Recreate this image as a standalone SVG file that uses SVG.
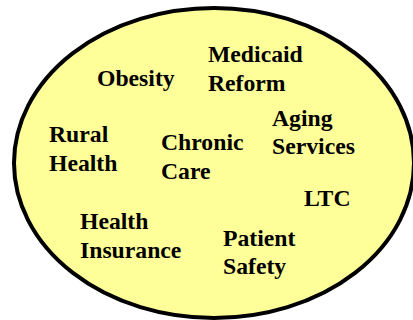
<svg xmlns="http://www.w3.org/2000/svg" width="413" height="320" viewBox="0 0 413 320">
  <style>
    .lbl { font-family: "Liberation Serif", "Times New Roman", serif; font-weight: bold; font-size: 23.7px; fill: #000000; }
  </style>
  <rect width="413" height="320" fill="#ffffff"/>
  <g id="circle">
    <ellipse cx="214" cy="163" rx="200" ry="155" fill="#ffff99" stroke="#000000" stroke-width="4"/>
  </g>
  <g id="obesity"><text class="lbl" x="97" y="86">Obesity</text></g>
  <g id="medicaid-reform">
    <text class="lbl" x="208" y="62">Medicaid</text>
    <text class="lbl" x="208" y="91">Reform</text>
  </g>
  <g id="aging-services">
    <text class="lbl" x="272" y="126">Aging</text>
    <text class="lbl" x="272" y="154">Services</text>
  </g>
  <g id="rural-health">
    <text class="lbl" x="49" y="142">Rural</text>
    <text class="lbl" x="49" y="170.5">Health</text>
  </g>
  <g id="chronic-care">
    <text class="lbl" x="161" y="149.5">Chronic</text>
    <text class="lbl" x="161" y="178.5">Care</text>
  </g>
  <g id="ltc"><text class="lbl" x="304" y="205.5">LTC</text></g>
  <g id="health-insurance">
    <text class="lbl" x="80" y="229">Health</text>
    <text class="lbl" x="80" y="258">Insurance</text>
  </g>
  <g id="patient-safety">
    <text class="lbl" x="223" y="246">Patient</text>
    <text class="lbl" x="223" y="274">Safety</text>
  </g>
</svg>
